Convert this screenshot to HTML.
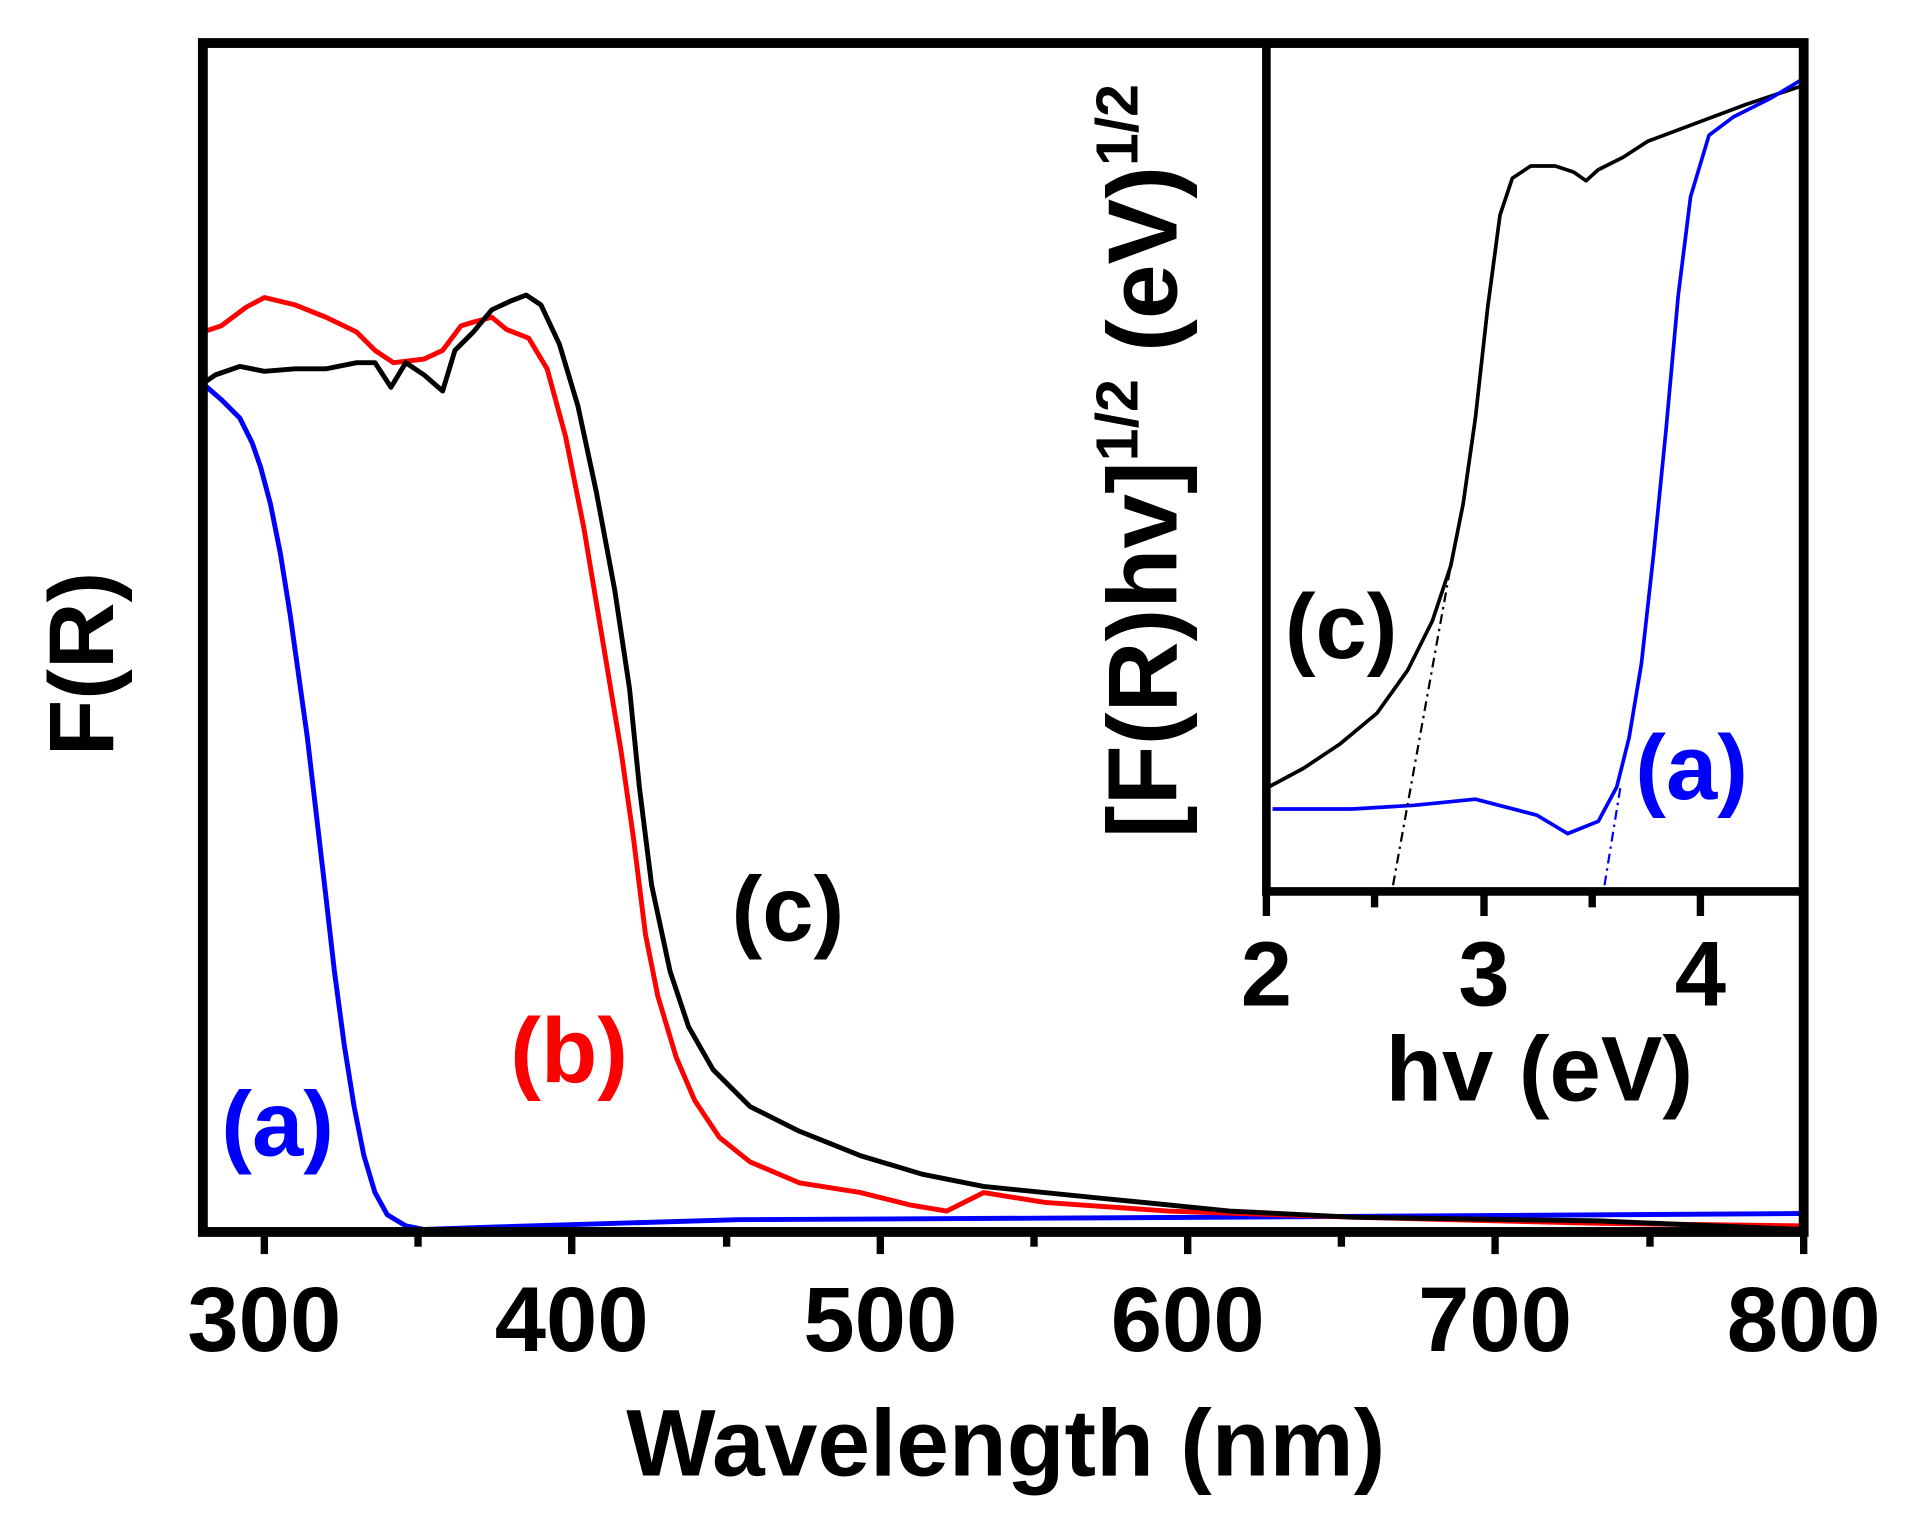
<!DOCTYPE html>
<html><head><meta charset="utf-8"><style>
html,body{margin:0;padding:0;background:#fff;}
svg{display:block;}
text{font-family:"Liberation Sans",Arial,sans-serif;font-weight:bold;}
</style></head><body>
<svg width="1918" height="1522" viewBox="0 0 1918 1522" xmlns="http://www.w3.org/2000/svg">
<rect width="1918" height="1522" fill="#fff"/>
<g transform="scale(1.2295)">
<g fill="none" stroke-width="4" stroke-linejoin="round" stroke-linecap="round">
<polyline stroke="#0000ff" points="165,312 180,325 195,340 205,360 212,380 220,410 228,450 236,500 243,550 250,600 257,660 264,720 272,790 280,850 288,900 296,940 305,970 315,988 330,997 345,1000 400,998 600,992 1000,990 1465,987"/>
<polyline stroke="#ff0000" points="165,270 180,265 200,250 215,242 240,248 265,258 290,270 305,285 320,295 345,292 360,285 375,265 385,262 400,258 412,268 430,275 445,300 460,355 475,430 490,520 505,610 515,680 525,760 535,810 550,860 565,895 585,925 610,945 650,962 700,970 740,980 770,985 800,970 850,978 950,985 1100,990 1300,995 1465,997"/>
<polyline stroke="#000" points="165,312 175,305 195,298 215,302 240,300 265,300 290,295 305,295 318,315 330,295 345,305 360,318 370,285 385,270 400,252 415,245 428,240 440,248 455,280 470,330 485,400 500,480 512,560 520,640 530,720 545,790 560,835 580,870 610,900 650,920 700,940 750,955 800,965 900,975 1000,985 1100,990 1300,993 1465,1000"/>
</g>
<rect x="1030" y="35" width="437" height="690" fill="#fff"/>
<g fill="none" stroke-width="3" stroke-linejoin="round">
<polyline stroke="#000" points="1032,640 1060,625 1090,605 1120,580 1145,545 1165,505 1180,460 1190,410 1200,340 1210,250 1220,175 1230,145 1245,135 1265,135 1280,140 1290,147 1300,138 1320,128 1340,115 1380,100 1420,85 1450,75 1465,70"/>
<polyline stroke="#0000ff" points="1035,658 1100,658 1150,655 1200,650 1250,663 1275,678 1300,668 1315,640 1325,600 1335,540 1345,450 1355,350 1365,240 1375,160 1390,110 1410,95 1440,80 1465,65"/>
<line x1="1133" y1="720" x2="1180" y2="460" stroke="#000" stroke-width="1.8" stroke-dasharray="8,4,2,4"/>
<line x1="1305" y1="720" x2="1318" y2="640" stroke="#0000ff" stroke-width="1.8" stroke-dasharray="8,4,2,4"/>
</g>
<rect x="165" y="35" width="1302" height="967" fill="none" stroke="#000" stroke-width="8"/>
<path d="M1030,35 V725 H1467" fill="none" stroke="#000" stroke-width="7"/>
<g stroke="#000" stroke-width="6">
<line x1="215" y1="1002" x2="215" y2="1020"/><line x1="340" y1="1002" x2="340" y2="1014"/>
<line x1="465" y1="1002" x2="465" y2="1020"/><line x1="591" y1="1002" x2="591" y2="1014"/>
<line x1="716" y1="1002" x2="716" y2="1020"/><line x1="841" y1="1002" x2="841" y2="1014"/>
<line x1="966" y1="1002" x2="966" y2="1020"/><line x1="1091" y1="1002" x2="1091" y2="1014"/>
<line x1="1216" y1="1002" x2="1216" y2="1020"/><line x1="1342" y1="1002" x2="1342" y2="1014"/>
<line x1="1467" y1="1002" x2="1467" y2="1020"/>
<line x1="1030" y1="725" x2="1030" y2="745"/><line x1="1118" y1="725" x2="1118" y2="738"/>
<line x1="1207" y1="725" x2="1207" y2="745"/><line x1="1295" y1="725" x2="1295" y2="738"/>
<line x1="1383" y1="725" x2="1383" y2="745"/>
</g>
<g font-size="75" text-anchor="middle">
<text x="215" y="1099">300</text><text x="465" y="1099">400</text><text x="716" y="1099">500</text>
<text x="966" y="1099">600</text><text x="1216" y="1099">700</text><text x="1467" y="1099">800</text>
<text x="1030" y="818">2</text><text x="1207" y="818">3</text><text x="1383" y="818">4</text>
</g>
<text x="818" y="1200" font-size="77" text-anchor="middle">Wavelength (nm)</text>
<text x="1252" y="895" font-size="75" text-anchor="middle">hv (eV)</text>
<text transform="translate(92,540) rotate(-90)" font-size="75" text-anchor="middle">F(R)</text>
<text transform="translate(957,375) rotate(-90)" font-size="80" text-anchor="middle">[F(R)hv]<tspan font-size="48" dy="-32">1/2</tspan><tspan dy="32"> (eV)</tspan><tspan font-size="48" dy="-32">1/2</tspan></text>
<g font-size="75">
<text x="180" y="940" fill="#0000ff">(a)</text>
<text x="415" y="880" fill="#ff0000">(b)</text>
<text x="595" y="765" fill="#000">(c)</text>
<text x="1045" y="535" fill="#000">(c)</text>
<text x="1330" y="650" fill="#0000ff">(a)</text>
</g>
</g>
</svg>
</body></html>
